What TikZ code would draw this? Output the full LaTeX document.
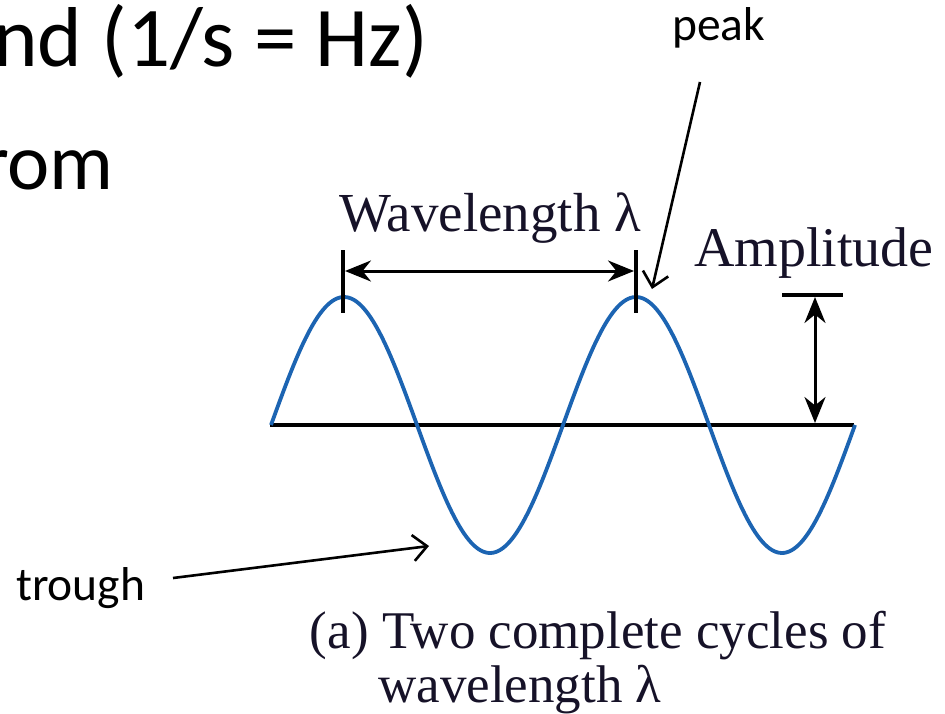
\documentclass[tikz,border=0pt]{standalone}
\usepackage{fontspec}
\setmainfont{Liberation Serif}
\newfontfamily\calfont{Carlito}
\usetikzlibrary{arrows.meta}
\definecolor{wave}{RGB}{28,100,178}
\definecolor{serifink}{RGB}{22,18,40}
\tikzset{
  slidetext/.style={inner sep=0pt, anchor=base west, font=\calfont\fontsize{85}{102}\selectfont},
  labeltext/.style={inner sep=0pt, anchor=base west, font=\calfont\fontsize{47.5}{57}\selectfont},
  figtext/.style={inner sep=0pt, anchor=base, text=serifink, font=\fontsize{53}{64}\selectfont},
  pointer/.style={line width=2.6pt, -{Straight Barb[length=14pt,width=26pt,line width=2.6pt]}},
  dimarrow/.style={line width=3pt, {Stealth[length=26pt,width=21pt]}-{Stealth[length=26pt,width=21pt]}},
  rule/.style={line width=3.2pt},
}
\begin{document}
\begin{tikzpicture}[x=1pt,y=-1pt]
\useasboundingbox[fill=white] (0,0) rectangle (945,714);
% slide text
\node[slidetext] (line1) at (-7,67) {nd (1/s = Hz)};
\node[slidetext, font=\calfont\fontsize{80}{96}\selectfont] (line2) at (-19,190) {rom};
% wave and axis
\coordinate (axl) at (270,425);
\coordinate (axr) at (854,425);
\draw[rule, line width=3.6pt] (axl) -- (axr);
\draw[wave, line width=3.8pt, line join=round] plot[domain=271:855, samples=240] (\x, {425-128*sin(((\x-271)/292)*360)});
% wavelength ticks and arrow
\coordinate (t1a) at (343,250); \coordinate (t1b) at (343,313);
\coordinate (t2a) at (636,250); \coordinate (t2b) at (636,313);
\draw[rule] (t1a) -- (t1b);
\draw[rule] (t2a) -- (t2b);
\coordinate (wl) at (345,271); \coordinate (wr) at (634,271);
\draw[dimarrow] (wl) -- (wr);
\node[figtext, font=\fontsize{55}{66}\selectfont] (wavelabel) at (490,232) {Wavelength λ};
% amplitude
\coordinate (barl) at (782,295); \coordinate (barr) at (843,295);
\draw[rule] (barl) -- (barr);
\coordinate (amptop) at (815,297); \coordinate (ampbot) at (815,423);
\draw[dimarrow] (amptop) -- (ampbot);
\node[figtext, font=\fontsize{56}{66}\selectfont] (amplabel) at (814,266) {Amplitude};
% peak / trough
\node[labeltext] (peak) at (672,41) {peak};
\coordinate (peakstart) at (700,82); \coordinate (peaktip) at (652,289);
\draw[pointer] (peakstart) -- (peaktip);
\node[labeltext] (trough) at (16,600) {trough};
\coordinate (troughstart) at (173,578); \coordinate (troughtip) at (429,546);
\draw[pointer] (troughstart) -- (troughtip);
% caption
\node[figtext] (cap1) at (598,648) {(a) Two complete cycles of};
\node[figtext, anchor=base west] (cap2) at (378,702) {wavelength λ};
\end{tikzpicture}
\end{document}
